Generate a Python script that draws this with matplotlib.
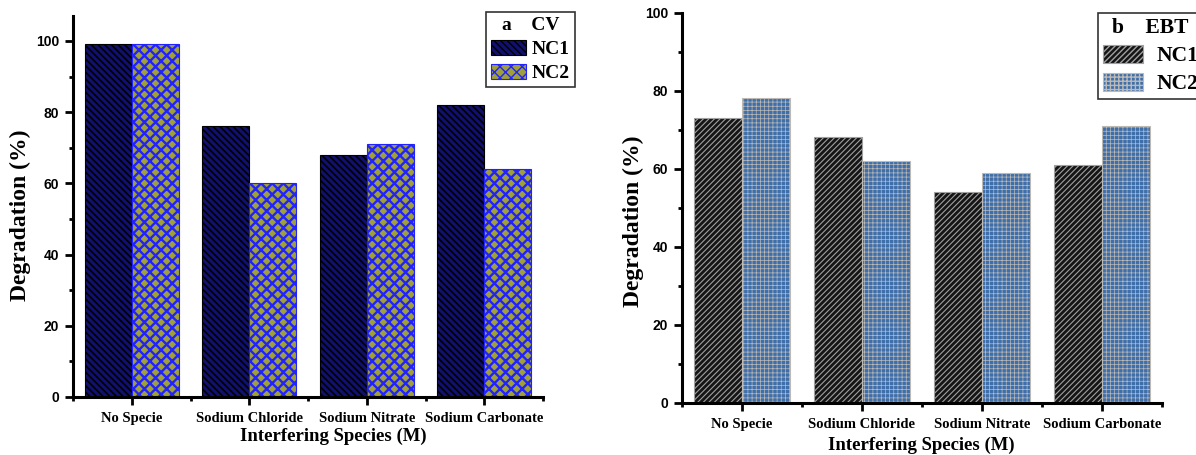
import matplotlib.pyplot as plt
import numpy as np
from matplotlib.font_manager import FontProperties
from matplotlib.ticker import MultipleLocator, FixedLocator

species = ['No Specie', 'Sodium Chloride', 'Sodium Nitrate', 'Sodium Carbonate']
series = ['NC1', 'NC2']

# degradation (%) for crystal violet (a) and eriochrome black T (b)
cv_nc1 = [99, 76, 68, 82]
cv_nc2 = [99, 60, 71, 64]
ebt_nc1 = [73, 68, 54, 61]
ebt_nc2 = [78, 62, 59, 71]

W, H = 1196, 455

serif_b = lambda s: FontProperties(family='Liberation Serif', weight='bold', size=s)
sans_b = FontProperties(family='Liberation Sans', weight='bold', size=10)

fig = plt.figure(figsize=(W / 100, H / 100), dpi=100)


def px_axes(l, t, r, b):
    return fig.add_axes([l / W, 1 - b / H, (r - l) / W, (b - t) / H])


def panel(ax, y1, y2, styles, ymax, title, leg_xy, leg_size, leg_kw, xlab_xy, ylab_xy):
    x = np.arange(len(species))
    w = 0.4
    bars = []
    for vals, off, st in zip([y1, y2], [-w / 2, w / 2], styles):
        face, hcol, hatch, hlw = st
        with plt.rc_context({'hatch.linewidth': hlw}):
            b = ax.bar(x + off, vals, w, facecolor=face, edgecolor=hcol,
                       hatch=hatch, linewidth=0.8, zorder=2)
            for p in b:
                if hasattr(p, 'set_hatch_linewidth'):
                    p.set_hatch_linewidth(hlw)
        bars.append(b)

    ax.set_xlim(-0.5, 3.5)
    ax.set_ylim(0, ymax)
    for s in ['top', 'right']:
        ax.spines[s].set_visible(False)
    for s in ['left', 'bottom']:
        ax.spines[s].set_linewidth(2.2)

    ax.set_xticks(x)
    ax.set_xticklabels(species, fontproperties=serif_b(10.5))
    ax.xaxis.set_minor_locator(FixedLocator([-0.5, 0.5, 1.5, 2.5, 3.5]))
    ax.yaxis.set_major_locator(MultipleLocator(20))
    ax.yaxis.set_minor_locator(MultipleLocator(10))
    for lab in ax.get_yticklabels():
        lab.set_fontproperties(sans_b)
    ax.tick_params(which='major', direction='out', length=6, width=2, pad=4)
    ax.tick_params(which='minor', direction='out', length=3, width=2)
    ax.tick_params(axis='x', which='major', pad=5)

    ax.set_xlabel('Interfering Species (M)', fontproperties=serif_b(13.5), va='center')
    ax.xaxis.set_label_coords(*xlab_xy)
    ax.set_ylabel('Degradation (%)', fontproperties=serif_b(17), va='center')
    ax.yaxis.set_label_coords(*ylab_xy)

    leg = ax.legend(bars, series, title=title, loc='upper left',
                    bbox_to_anchor=(leg_xy[0] / W, 1 - leg_xy[1] / H),
                    bbox_transform=fig.transFigure, prop=serif_b(leg_size),
                    title_fontproperties=serif_b(leg_size), fancybox=False,
                    borderaxespad=0, borderpad=0.25, labelspacing=0.3,
                    framealpha=1, **leg_kw)
    leg.get_frame().set_edgecolor('#333333')
    leg.get_frame().set_linewidth(1.2)


# panel a: crystal violet
ax1 = px_axes(73, 16, 543, 397)
panel(ax1, cv_nc1, cv_nc2,
      [('#10106e', 'black', '\\\\\\\\\\', 1.2), ('#a0a03a', '#2222ff', 'xxx', 1.7)],
      107, 'a    CV', (486, 12), 14,
      dict(handlelength=1.8, handleheight=0.8, handletextpad=0.3),
      (0.553, -0.102), (-0.111, 0.478))

# panel b: eriochrome black T
ax2 = px_axes(682, 12.7, 1162, 402.5)
panel(ax2, ebt_nc1, ebt_nc2,
      [('#151515', '#a0a0a0', '//////', 0.8), ('#3f6fab', '#bdbab6', '++++', 0.5)],
      100, 'b    EBT', (1098, 13), 15.5,
      dict(handlelength=1.85, handleheight=0.9, handletextpad=0.6),
      (0.498, -0.109), (-0.102, 0.466))

plt.savefig('out.png', dpi=100)
